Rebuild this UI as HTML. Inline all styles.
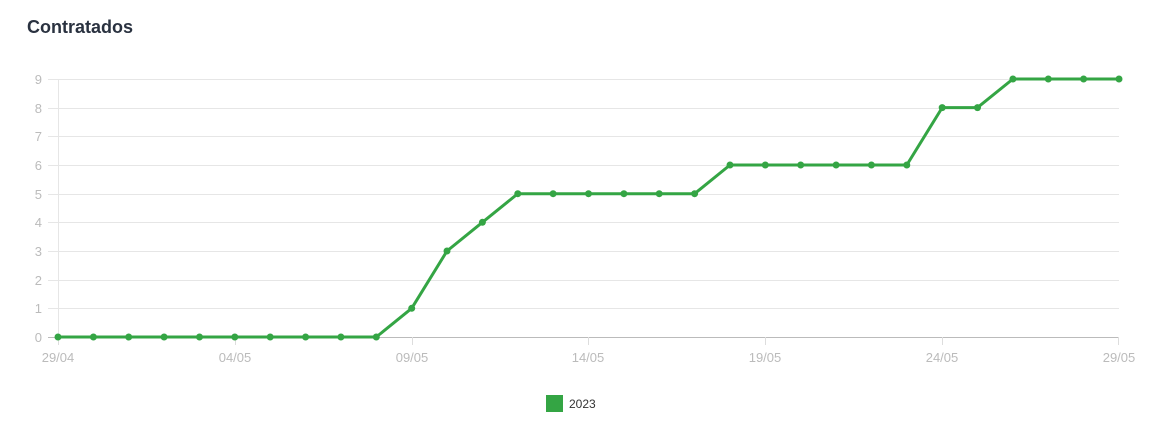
<!DOCTYPE html>
<html><head><meta charset="utf-8"><style>
body{margin:0;background:#fff;width:1168px;height:448px;overflow:hidden;font-family:"Liberation Sans",sans-serif}
.t{position:absolute;left:27px;top:17px;font-size:18px;font-weight:bold;color:#2a3240}
</style></head><body>
<div class="t">Contratados</div>
<svg width="1168" height="448" style="position:absolute;left:0;top:0" font-family="Liberation Sans, sans-serif">
<g stroke="#e6e6e6" stroke-width="1">
<line x1="48" x2="1119" y1="79.5" y2="79.5"/><line x1="48" x2="1119" y1="108.5" y2="108.5"/>
<line x1="48" x2="1119" y1="136.5" y2="136.5"/><line x1="48" x2="1119" y1="165.5" y2="165.5"/>
<line x1="48" x2="1119" y1="194.5" y2="194.5"/><line x1="48" x2="1119" y1="222.5" y2="222.5"/>
<line x1="48" x2="1119" y1="251.5" y2="251.5"/><line x1="48" x2="1119" y1="280.5" y2="280.5"/>
<line x1="48" x2="1119" y1="308.5" y2="308.5"/>
<line x1="58.5" x2="58.5" y1="79" y2="337"/>
</g>
<line x1="48" x2="1119" y1="337.5" y2="337.5" stroke="#bbb"/>
<g stroke="#ddd"><line x1="58.5" x2="58.5" y1="337" y2="345"/><line x1="235.5" x2="235.5" y1="337" y2="345"/><line x1="412.5" x2="412.5" y1="337" y2="345"/><line x1="588.5" x2="588.5" y1="337" y2="345"/><line x1="765.5" x2="765.5" y1="337" y2="345"/><line x1="942.5" x2="942.5" y1="337" y2="345"/><line x1="1118.5" x2="1118.5" y1="337" y2="345"/></g>
<g fill="#bbb" font-size="13" text-anchor="end">
<text x="42" y="84">9</text><text x="42" y="113">8</text><text x="42" y="141">7</text><text x="42" y="170">6</text><text x="42" y="199">5</text><text x="42" y="227">4</text><text x="42" y="256">3</text><text x="42" y="285">2</text><text x="42" y="313">1</text><text x="42" y="342">0</text>
</g>
<g fill="#bbb" font-size="13" text-anchor="middle">
<text x="58" y="362">29/04</text><text x="235" y="362">04/05</text><text x="412" y="362">09/05</text><text x="588" y="362">14/05</text><text x="765" y="362">19/05</text><text x="942" y="362">24/05</text><text x="1119" y="362">29/05</text>
</g>
<polyline fill="none" stroke="#34a544" stroke-width="3" stroke-linejoin="round" points="58,337 376.3,337 411.7,308.3 447,251 482.4,222.3 517.8,193.7 694.6,193.7 730,165 906.8,165 942.2,107.6 977.5,107.6 1012.9,79 1119,79"/>
<g fill="#34a544">
<circle cx="58" cy="337" r="3.5"/><circle cx="93.4" cy="337" r="3.5"/><circle cx="128.7" cy="337" r="3.5"/><circle cx="164.1" cy="337" r="3.5"/><circle cx="199.5" cy="337" r="3.5"/><circle cx="234.8" cy="337" r="3.5"/><circle cx="270.2" cy="337" r="3.5"/><circle cx="305.6" cy="337" r="3.5"/><circle cx="340.9" cy="337" r="3.5"/><circle cx="376.3" cy="337" r="3.5"/>
<circle cx="411.7" cy="308.3" r="3.5"/><circle cx="447" cy="251" r="3.5"/><circle cx="482.4" cy="222.3" r="3.5"/>
<circle cx="517.8" cy="193.7" r="3.5"/><circle cx="553.1" cy="193.7" r="3.5"/><circle cx="588.5" cy="193.7" r="3.5"/><circle cx="623.9" cy="193.7" r="3.5"/><circle cx="659.2" cy="193.7" r="3.5"/><circle cx="694.6" cy="193.7" r="3.5"/>
<circle cx="730" cy="165" r="3.5"/><circle cx="765.3" cy="165" r="3.5"/><circle cx="800.7" cy="165" r="3.5"/><circle cx="836.1" cy="165" r="3.5"/><circle cx="871.4" cy="165" r="3.5"/><circle cx="906.8" cy="165" r="3.5"/>
<circle cx="942.2" cy="107.6" r="3.5"/><circle cx="977.5" cy="107.6" r="3.5"/>
<circle cx="1012.9" cy="79" r="3.5"/><circle cx="1048.3" cy="79" r="3.5"/><circle cx="1083.6" cy="79" r="3.5"/><circle cx="1119" cy="79" r="3.5"/>
</g>
<rect x="546" y="395" width="17" height="17" fill="#34a544"/>
<text x="569" y="408" font-size="12" fill="#333">2023</text>
</svg>
</body></html>
